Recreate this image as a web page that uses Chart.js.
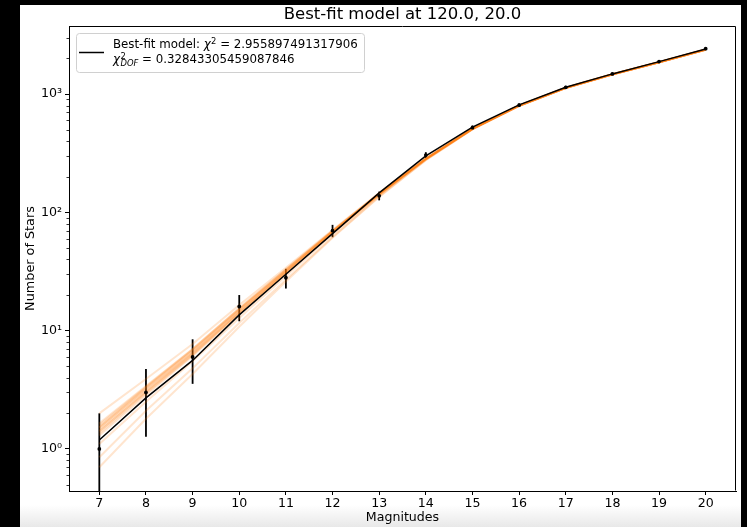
<!DOCTYPE html>
<html><head><meta charset="utf-8">
<script src="https://cdn.jsdelivr.net/npm/chart.js@4/dist/chart.umd.min.js"></script>
<style>
html,body{margin:0;padding:0;background:#000;width:747px;height:527px;overflow:hidden;}
#frame{position:absolute;left:20px;top:5px;width:721px;height:522px;background:linear-gradient(to bottom,#fff 0px,#fff 500px,#e8e8e8 522px);}
#c{position:absolute;left:0;top:0;}
</style></head><body>
<div id="frame"><canvas id="c" width="722" height="522"></canvas></div>
<script>
// ---- data ----
const magnitudes = [7, 8, 9, 10, 11, 12, 13, 14, 15, 16, 17, 18, 19, 20];
const observedCounts = [1, 3, 6, 16, 28, 70, 138, 305, 520, 805, 1140, 1480, 1880, 2420];
const countErrors = [1.0, 1.73, 2.45, 4.0, 5.3, 8.4, 11.7, 17.5, 22.8, 28.4, 33.8, 38.5, 43.4, 49.2];
const bestFitModel = [1.19, 2.7, 5.6, 13.6, 30, 66, 146, 300, 525, 810, 1140, 1480, 1880, 2400];
const sampleModel1 = [1.65, 3.4, 7.0, 15.5, 33, 70, 145, 285, 510, 800, 1130, 1470, 1860, 2380];
const sampleModel2 = [1.5, 3.2, 6.6, 14.8, 32, 69, 143, 283, 508, 798, 1128, 1468, 1858, 2375];
const sampleModel3 = [1.4, 3.0, 6.3, 14.2, 31, 68, 142, 282, 507, 797, 1127, 1466, 1856, 2372];
const sampleModel4 = [1.3, 2.85, 6.1, 13.8, 30.5, 67, 141, 281, 506, 796, 1126, 1465, 1855, 2370];
const sampleModel5 = [1.55, 3.3, 6.9, 15.2, 32.5, 69.5, 144, 284, 509, 799, 1129, 1469, 1859, 2378];
const sampleModel6 = [1.1, 2.5, 5.5, 12.8, 29, 65, 139, 279, 505, 795, 1125, 1464, 1854, 2368];
const sampleModel7 = [0.85, 2.1, 4.8, 11.6, 27, 62, 136, 277, 503, 793, 1123, 1462, 1852, 2366];
const sampleModel8 = [0.7, 1.8, 4.3, 10.8, 26, 61, 135, 276, 502, 792, 1122, 1461, 1851, 2365];
const sampleModel9 = [2.0, 3.9, 7.7, 16.5, 34, 71, 146, 286, 511, 801, 1131, 1471, 1861, 2385];
const sampleModel10 = [1.45, 3.1, 6.5, 14.5, 31.5, 68.5, 142.5, 282.5, 507, 797, 1127, 1467, 1857, 2374];
const sampleModel11 = [1.6, 3.35, 6.95, 15.3, 32.8, 69.8, 144.5, 284.5, 509.5, 799.5, 1129.5, 1469.5, 1859.5, 2379];
const sampleModel12 = [1.35, 2.95, 6.2, 14.0, 30.8, 67.5, 141.5, 281.5, 506.5, 796.5, 1126.5, 1465.5, 1855.5, 2371];
const sampleModel13 = [1.52, 3.25, 6.75, 15.0, 32.2, 69.2, 143.5, 283.5, 508.5, 798.5, 1128.5, 1468.5, 1858.5, 2376];
const sampleModel14 = [1.42, 3.05, 6.4, 14.3, 31.2, 68.2, 142.2, 282.2, 507.2, 797.2, 1127.2, 1466.5, 1856.5, 2373];
const sampleModels = [sampleModel1, sampleModel2, sampleModel3, sampleModel4, sampleModel5, sampleModel6,
  sampleModel7, sampleModel8, sampleModel9, sampleModel10, sampleModel11, sampleModel12, sampleModel13, sampleModel14];
const yMajorTicks = [1, 10, 100, 1000];
const yTickLabels = ['10\u2070', '10\u00b9', '10\u00b2', '10\u00b3'];
const titleText = 'Best-fit model at 120.0, 20.0';
const chi2Text = '2.955897491317906';
const chi2DofText = '0.32843305459087846';
const xLabel = 'Magnitudes';
const yLabel = 'Number of Stars';

const FONT = '"DejaVu Sans", "Liberation Sans", sans-serif';
const toXY = arr => arr.map((v, i) => ({x: magnitudes[i], y: v}));
const isMajor = v => yMajorTicks.some(m => Math.abs(m - v) < 1e-9 * m);

const errorBars = {
  id: 'errorBars',
  beforeDatasetsDraw(chart) {
    const {ctx, chartArea: a, scales: {x, y}} = chart;
    ctx.save();
    ctx.beginPath(); ctx.rect(a.left, a.top, a.right - a.left, a.bottom - a.top); ctx.clip();
    ctx.strokeStyle = '#000'; ctx.lineWidth = 1.8;
    magnitudes.forEach((m, i) => {
      const px = x.getPixelForValue(m);
      const lo = Math.max(observedCounts[i] - countErrors[i], y.min * 0.5);
      const hi = observedCounts[i] + countErrors[i];
      ctx.beginPath();
      ctx.moveTo(px, y.getPixelForValue(lo));
      ctx.lineTo(px, y.getPixelForValue(hi));
      ctx.stroke();
    });
    ctx.restore();
  }
};

const frameAndMinor = {
  id: 'frameAndMinor',
  afterDraw(chart) {
    const {ctx, chartArea: a, scales: {y}} = chart;
    ctx.save();
    ctx.strokeStyle = '#000'; ctx.lineWidth = 1;
    ctx.beginPath();
    ctx.moveTo(Math.round(a.left) + 0.5, Math.round(a.top) + 0.5);
    ctx.lineTo(Math.round(a.right) - 0.5, Math.round(a.top) + 0.5);
    ctx.lineTo(Math.round(a.right) - 0.5, Math.round(a.bottom) - 0.5);
    ctx.stroke();
    ctx.lineWidth = 0.8;
    y.ticks.forEach(t => {
      if (isMajor(t.value)) return;
      const py = Math.round(y.getPixelForValue(t.value)) + 0.5;
      ctx.beginPath(); ctx.moveTo(a.left - 2.5, py); ctx.lineTo(a.left, py); ctx.stroke();
    });
    ctx.restore();
  }
};

function drawRuns(ctx, runs, x, base) {
  runs.forEach(r => {
    ctx.font = r.f;
    ctx.fillText(r.t, x, base + (r.dy || 0));
    x += ctx.measureText(r.t).width + (r.gap || 0);
  });
  return x;
}

const legendBox = {
  id: 'legendBox',
  afterDraw(chart) {
    const {ctx, chartArea: a} = chart;
    const bx = a.left + 7, by = a.top + 7, bw = 288, bh = 39;
    ctx.save();
    ctx.beginPath();
    ctx.roundRect(bx + 0.5, by + 0.5, bw, bh, 3);
    ctx.fillStyle = 'rgba(255,255,255,0.8)'; ctx.fill();
    ctx.strokeStyle = '#d0d0d0'; ctx.lineWidth = 1; ctx.stroke();
    ctx.strokeStyle = '#000'; ctx.lineWidth = 1.5;
    ctx.beginPath(); ctx.moveTo(a.left + 10, a.top + 26.5); ctx.lineTo(a.left + 35, a.top + 26.5); ctx.stroke();
    ctx.fillStyle = '#000'; ctx.textBaseline = 'alphabetic'; ctx.textAlign = 'left';
    const N = '11.8px ' + FONT, I = 'italic 11.8px ' + FONT, S = '8.4px ' + FONT, SI = 'italic 8.4px ' + FONT;
    const tx = a.left + 44;
    drawRuns(ctx, [
      {t: 'Best-fit model: ', f: N},
      {t: '\u03c7', f: I, gap: 0.5},
      {t: '2', f: S, dy: -4.5},
      {t: ' = ' + chi2Text, f: N}
    ], tx, a.top + 22.3);
    const b2 = a.top + 37.3;
    ctx.font = I; ctx.fillText('\u03c7', tx, b2);
    let x2 = tx + ctx.measureText('\u03c7').width + 0.5;
    ctx.font = S; ctx.fillText('2', x2, b2 - 4.5);
    ctx.font = SI; ctx.fillText('DOF', x2, b2 + 2.5);
    x2 += ctx.measureText('DOF').width;
    ctx.font = N; ctx.fillText(' = ' + chi2DofText, x2, b2);
    ctx.restore();
  }
};

new Chart(document.getElementById('c'), {
  type: 'scatter',
  data: {
    datasets: [
      ...sampleModels.map((s, k) => ({
        label: 'sample ' + (k + 1), data: toXY(s), showLine: true,
        borderColor: 'rgba(255,127,14,0.2)', borderWidth: 2, pointRadius: 0, order: 2
      })),
      {label: 'Best-fit model', data: toXY(bestFitModel), showLine: true,
        borderColor: '#000', borderWidth: 1.5, pointRadius: 0, order: 0},
      {label: 'Observed', data: toXY(observedCounts), showLine: false,
        backgroundColor: '#000', borderColor: '#000', borderWidth: 0, pointRadius: 1.9, pointHoverRadius: 1.9, order: 1}
    ]
  },
  options: {
    responsive: false, animation: false, devicePixelRatio: 1,
    layout: {padding: {left: 0, right: 6, top: 0, bottom: 0}},
    plugins: {
      legend: {display: false}, tooltip: {enabled: false},
      title: {display: true, fullSize: false, text: titleText, color: '#000',
        font: {family: FONT, size: 16.5, weight: 'normal', lineHeight: 1.2},
        padding: {top: 0, bottom: 1.2}}
    },
    scales: {
      x: {
        type: 'linear', min: 6.35, max: 20.65,
        afterBuildTicks: s => { s.ticks = magnitudes.map(v => ({value: v})); },
        afterFit: s => { s.height = 36; },
        ticks: {color: '#000', font: {family: FONT, size: 12.6}, padding: 1, maxRotation: 0, autoSkip: false,
          callback: v => String(v)},
        grid: {drawOnChartArea: false, drawTicks: true, tickLength: 4, color: '#000', tickWidth: 1},
        border: {display: true, color: '#000', width: 1},
        title: {display: true, text: xLabel, color: '#000', font: {family: FONT, size: 12.6}, padding: {top: 0, bottom: 2}}
      },
      y: {
        type: 'logarithmic', min: 0.441, max: 3760,
        afterBuildTicks: s => {
          const t = [];
          for (let e = -1; e <= 3; e++) for (let k = 1; k <= 9; k++) {
            const v = k * Math.pow(10, e);
            if (v >= s.min && v <= s.max) t.push({value: v});
          }
          s.ticks = t;
        },
        afterFit: s => { s.width = 49; },
        ticks: {color: '#000', font: {family: FONT, size: 12.6}, padding: 3, autoSkip: false,
          callback: v => { const i = yMajorTicks.findIndex(m => Math.abs(m - v) < 1e-9 * m); return i >= 0 ? yTickLabels[i] : ''; }},
        grid: {drawOnChartArea: false, drawTicks: true, tickLength: 4,
          tickColor: c => (c.tick && isMajor(c.tick.value)) ? '#000' : 'rgba(0,0,0,0)', color: '#000'},
        border: {display: true, color: '#000', width: 1},
        title: {display: true, text: yLabel, color: '#000', font: {family: FONT, size: 12.8}, padding: {top: 3, bottom: 0}}
      }
    }
  },
  plugins: [errorBars, frameAndMinor, legendBox]
});
</script>
</body></html>
